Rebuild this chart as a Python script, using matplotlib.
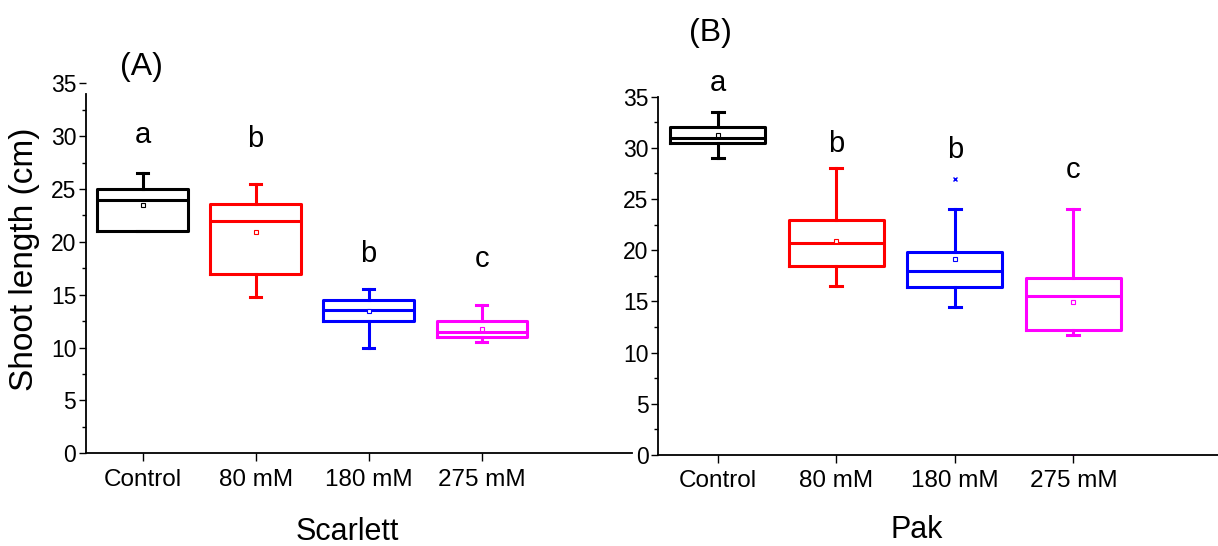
import matplotlib
matplotlib.use("Agg")
import matplotlib.pyplot as plt
from matplotlib.ticker import MultipleLocator

plt.rcParams['font.family'] = ['Liberation Sans', 'DejaVu Sans']

# Kategorien en kleuren
cats = ["Control", "80 mM", "180 mM", "275 mM"]
kleuren = ["black", "red", "blue", "magenta"]

# Scarlett (A): q1, mediaan, q3, whisker laag, whisker hoog, gemiddelde
sc_q1 = [21.0, 17.0, 12.5, 11.0]
sc_med = [24.0, 22.0, 13.6, 11.5]
sc_q3 = [25.0, 23.6, 14.5, 12.5]
sc_wlo = [21.0, 14.8, 10.0, 10.5]
sc_whi = [26.5, 25.5, 15.5, 14.0]
sc_mean = [23.5, 20.9, 13.5, 11.8]
sc_out = [[], [], [], []]
sc_letters = ["a", "b", "b", "c"]
sc_letter_y = [30.1, 29.7, 18.9, 18.4]

# Pak (B)
pk_q1 = [30.5, 18.5, 16.4, 12.2]
pk_med = [31.0, 20.7, 18.0, 15.5]
pk_q3 = [32.0, 23.0, 19.8, 17.25]
pk_wlo = [29.0, 16.5, 14.5, 11.7]
pk_whi = [33.5, 28.0, 24.0, 24.0]
pk_mean = [31.3, 20.9, 19.1, 14.9]
pk_out = [[], [], [27.0], [0.0]]
pk_letters = ["a", "b", "b", "c"]
pk_letter_y = [36.3, 30.4, 29.8, 27.8]


def teken(ax, q1, med, q3, wlo, whi, mean, out, letters, letter_y, xmax):
    for i in range(4):
        st = [dict(q1=q1[i], med=med[i], q3=q3[i], whislo=wlo[i], whishi=whi[i],
                   mean=mean[i], fliers=out[i])]
        c = kleuren[i]
        fm = "x" if (out[i] and out[i][0] > 0) else "_"
        ax.bxp(st, positions=[i + 1], widths=0.8, capwidths=0.1, showmeans=True,
               showfliers=True,
               boxprops=dict(color=c, linewidth=2.2),
               medianprops=dict(color=c, linewidth=2.2),
               whiskerprops=dict(color=c, linewidth=2.2),
               capprops=dict(color=c, linewidth=2.2),
               meanprops=dict(marker="s", markersize=3, markerfacecolor="white",
                              markeredgecolor=c, markeredgewidth=0.8),
               flierprops=dict(marker=fm, markersize=3, markeredgecolor=c,
                               markeredgewidth=1))
        ax.text(i + 1, letter_y[i], letters[i], fontsize=21, ha="center",
                va="center", clip_on=False)
    ax.set_xlim(0.5, xmax)
    ax.set_ylim(0, 35)
    ax.set_xticks([1, 2, 3, 4])
    ax.set_xticklabels(cats, fontsize=17.5)
    ax.yaxis.set_major_locator(MultipleLocator(5))
    ax.yaxis.set_minor_locator(MultipleLocator(2.5))
    ax.tick_params(axis="y", labelsize=16.5, width=1, length=5, pad=2)
    ax.tick_params(axis="y", which="minor", width=1, length=3)
    ax.tick_params(axis="x", width=1, length=6, pad=5)
    ax.spines["top"].set_visible(False)
    ax.spines["right"].set_visible(False)
    ax.spines["left"].set_linewidth(1.3)
    ax.spines["bottom"].set_linewidth(1.3)


fig = plt.figure(figsize=(12.18, 5.46), dpi=100)
axA = fig.add_axes([0.0706, 0.1698, 0.4484, 0.6776])
axB = fig.add_axes([0.5405, 0.1667, 0.4595, 0.6562])

teken(axA, sc_q1, sc_med, sc_q3, sc_wlo, sc_whi, sc_mean, sc_out,
      sc_letters, sc_letter_y, 5.33)
teken(axB, pk_q1, pk_med, pk_q3, pk_wlo, pk_whi, pk_mean, pk_out,
      pk_letters, pk_letter_y, 5.22)

axA.spines["left"].set_bounds(0, 34)

# Astitels
fig.text(347 / 1218, 1 - 532 / 546, "Scarlett", fontsize=22, ha="center", va="center")
fig.text(917 / 1218, 1 - 530 / 546, "Pak", fontsize=22, ha="center", va="center")
fig.text(25 / 1218, 1 - 259 / 546, "Shoot length (cm)", fontsize=24,
         rotation=90, ha="center", va="center")

fig.text(141 / 1218, 1 - 67 / 546, "(A)", fontsize=23, ha="center", va="center")
fig.text(710 / 1218, 1 - 33 / 546, "(B)", fontsize=23, ha="center", va="center")

fig.savefig("out.png", dpi=100)
